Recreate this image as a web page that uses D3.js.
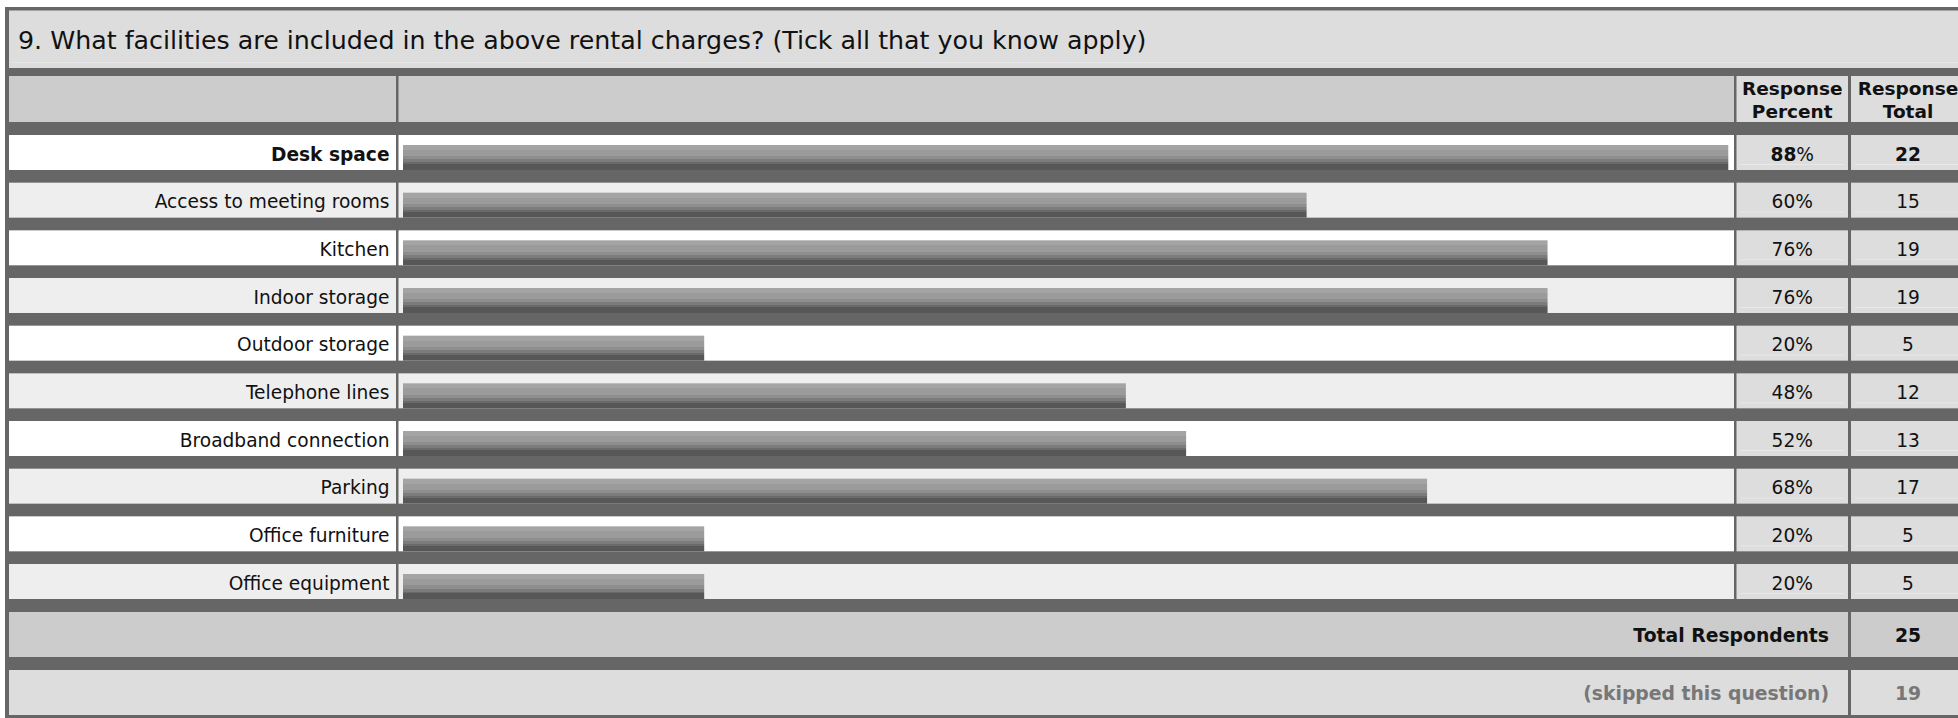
<!DOCTYPE html>
<html>
<head>
<meta charset="utf-8">
<script src="https://cdn.jsdelivr.net/npm/d3@7"></script>
<style>
  body { margin: 0; background: #fff; }
  svg text { font-family: "DejaVu Sans", Verdana, sans-serif; }
</style>
</head>
<body>
<div id="chart"></div>
<script>
var question = "9. What facilities are included in the above rental charges? (Tick all that you know apply)";
var categories = ["Desk space", "Access to meeting rooms", "Kitchen", "Indoor storage", "Outdoor storage",
                  "Telephone lines", "Broadband connection", "Parking", "Office furniture", "Office equipment"];
var percents = [88, 60, 76, 76, 20, 48, 52, 68, 20, 20];
var totals = [22, 15, 19, 19, 5, 12, 13, 17, 5, 5];
var headPercent = ["Response", "Percent"];
var headTotal = ["Response", "Total"];
var totalLabel = "Total Respondents";
var totalRespondents = 25;
var skippedLabel = "(skipped this question)";
var skipped = 19;

var width = 1958, height = 718;
var svg = d3.select("#chart").append("svg")
    .attr("width", width).attr("height", height);

// column edges
var col = {
  label: [9, 396],
  bar:   [398.5, 1734],
  pct:   [1736.5, 1848],
  tot:   [1851, 1966]
};
var totCenter = 1908;

// gradient for bars (stepped greys, light on top)
var grad = svg.append("defs").append("linearGradient")
    .attr("id", "bargrad").attr("x1", 0).attr("y1", 0).attr("x2", 0).attr("y2", 1);
var stops = [[0, "#a4a4a4"], [0.2, "#a4a4a4"], [0.2, "#9b9b9b"], [0.45, "#9b9b9b"], [0.45, "#8e8e8e"],
             [0.58, "#8e8e8e"], [0.58, "#7c7c7c"], [0.7, "#7c7c7c"], [0.7, "#6a6a6a"], [0.77, "#6a6a6a"],
             [0.77, "#575757"], [1, "#575757"]];
grad.selectAll("stop").data(stops).enter().append("stop")
    .attr("offset", function(d) { return d[0]; })
    .attr("stop-color", function(d) { return d[1]; });

// dark frame
svg.append("rect").attr("x", 5).attr("y", 7).attr("width", width).attr("height", height - 7)
    .attr("fill", "#666");

// title
svg.append("rect").attr("x", 9).attr("y", 10.5).attr("width", width).attr("height", 57.5).attr("fill", "#ddd");
svg.append("line").attr("x1", 12).attr("x2", width).attr("y1", 62.5).attr("y2", 62.5)
    .attr("stroke", "#e6e6e6").attr("stroke-width", 1);
svg.append("text").attr("x", 18).attr("y", 49)
    .attr("font-size", 25.3).attr("fill", "#111").text(question);

// header row
var hy0 = 76, hy1 = 122;
function cell(x0, x1, y0, y1, fill) {
  svg.append("rect").attr("x", x0).attr("y", y0).attr("width", x1 - x0).attr("height", y1 - y0).attr("fill", fill);
}
cell(col.label[0], col.label[1], hy0, hy1, "#ccc");
cell(col.bar[0], col.bar[1], hy0, hy1, "#ccc");
cell(col.pct[0], col.pct[1], hy0, hy1, "#ddd");
cell(col.tot[0], col.tot[1], hy0, hy1, "#ddd");

function headText(lines, cx) {
  var t = svg.append("text").attr("text-anchor", "middle").attr("font-size", 18.5)
      .attr("font-weight", "bold").attr("fill", "#111");
  t.selectAll("tspan").data(lines).enter().append("tspan")
      .attr("x", cx)
      .attr("y", function(d, i) { return 95 + i * 23; })
      .text(function(d) { return d; });
}
headText(headPercent, (col.pct[0] + col.pct[1]) / 2);
headText(headTotal, 1908);

// rows
var y = d3.scaleBand().domain(categories).range([135, 599]).paddingInner(0.266).paddingOuter(0);
var x = d3.scaleLinear().domain([0, 100]).range([403, 403 + 1506]);
var barH = 25;

var rows = svg.append("g").selectAll("g").data(categories).enter().append("g")
    .attr("transform", function(d) { return "translate(0," + y(d) + ")"; });

rows.each(function(d, i) {
  var g = d3.select(this);
  var bw = y.bandwidth();
  var bg = i % 2 === 0 ? "#fff" : "#eee";
  g.append("rect").attr("x", col.label[0]).attr("width", col.label[1] - col.label[0]).attr("height", bw).attr("fill", bg);
  g.append("rect").attr("x", col.bar[0]).attr("width", col.bar[1] - col.bar[0]).attr("height", bw).attr("fill", bg);
  g.append("rect").attr("x", col.pct[0]).attr("width", col.pct[1] - col.pct[0]).attr("height", bw).attr("fill", "#ddd");
  g.append("rect").attr("x", col.tot[0]).attr("width", col.tot[1] - col.tot[0]).attr("height", bw).attr("fill", "#ddd");
  [col.pct, col.tot].forEach(function(c) {
    g.append("line").attr("x1", c[0] + 4).attr("x2", c[1] - 4).attr("y1", bw - 5.5).attr("y2", bw - 5.5)
        .attr("stroke", "#e9e9e9");
  });
  g.append("rect").attr("x", x(0)).attr("y", bw - barH)
      .attr("width", x(percents[i]) - x(0)).attr("height", barH)
      .attr("fill", "url(#bargrad)");
  var bold = i === 0 ? "bold" : "normal";
  var ty = bw / 2 + 1.5;
  g.append("text").attr("x", col.label[1] - 6.5).attr("y", ty).attr("dy", "0.36em")
      .attr("text-anchor", "end").attr("font-size", 18.6).attr("font-weight", bold).attr("fill", "#111")
      .text(d);
  var pt = g.append("text").attr("x", (col.pct[0] + col.pct[1]) / 2).attr("y", ty).attr("dy", "0.36em")
      .attr("text-anchor", "middle").attr("font-size", 18.6).attr("fill", "#111");
  pt.append("tspan").attr("font-weight", bold).text(percents[i]);
  pt.append("tspan").text("%");
  g.append("text").attr("x", totCenter).attr("y", ty).attr("dy", "0.36em")
      .attr("text-anchor", "middle").attr("font-size", 18.6).attr("font-weight", bold).attr("fill", "#111")
      .text(totals[i]);
});

// footer rows
function footRow(y0, y1, fill, label, value, color) {
  cell(col.label[0], col.pct[1], y0, y1, fill);
  cell(col.tot[0], col.tot[1], y0, y1, fill);
  svg.append("text").attr("x", 1829).attr("y", (y0 + y1) / 2 + 1).attr("dy", "0.36em")
      .attr("text-anchor", "end").attr("font-size", 18.8).attr("font-weight", "bold").attr("fill", color)
      .text(label);
  svg.append("text").attr("x", totCenter).attr("y", (y0 + y1) / 2 + 1).attr("dy", "0.36em")
      .attr("text-anchor", "middle").attr("font-size", 18.8).attr("font-weight", "bold").attr("fill", color)
      .text(value);
}
footRow(612, 657, "#ccc", totalLabel, totalRespondents, "#111");
footRow(670, 715, "#ddd", skippedLabel, skipped, "#777");
</script>
</body>
</html>
